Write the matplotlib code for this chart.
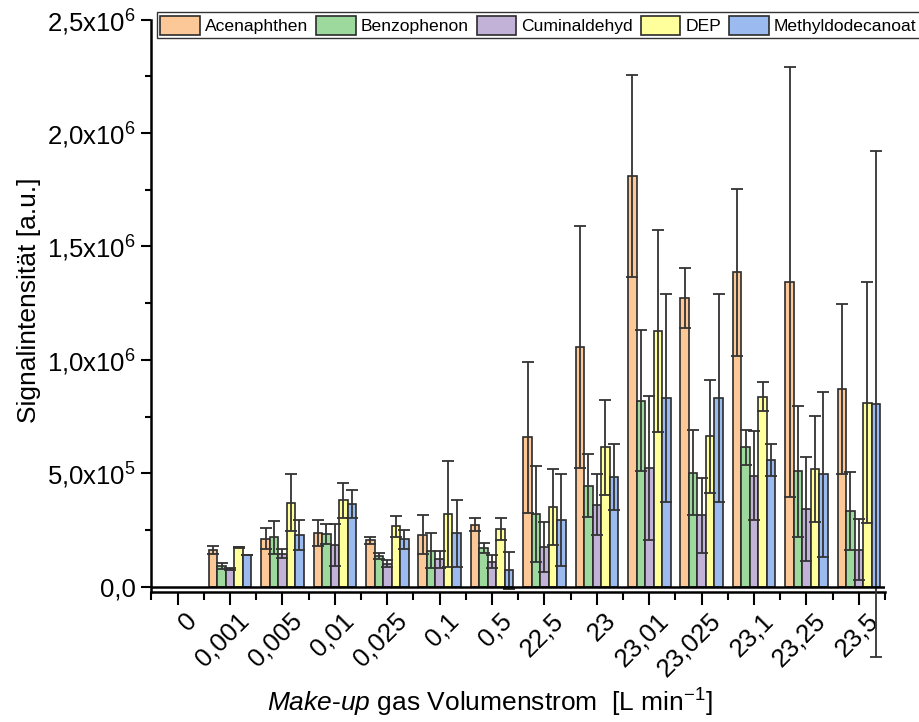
import numpy as np
import matplotlib
matplotlib.use('Agg')
import matplotlib.pyplot as plt
import matplotlib.transforms as mtransforms
from matplotlib import font_manager
from matplotlib.ticker import FixedLocator, MultipleLocator

plt.rcParams['font.family'] = ['Liberation Sans', 'DejaVu Sans']
plt.rcParams['mathtext.fontset'] = 'custom'
plt.rcParams['mathtext.rm'] = 'Liberation Sans'
plt.rcParams['mathtext.it'] = 'Liberation Sans:italic'
plt.rcParams['mathtext.bf'] = 'Liberation Sans:bold'

# ---------------- data ----------------
categories = ['0', '0,001', '0,005', '0,01', '0,025', '0,1', '0,5',
              '22,5', '23', '23,01', '23,025', '23,1', '23,25', '23,5']
series_names = ['Acenaphthen', 'Benzophenon', 'Cuminaldehyd', 'DEP', 'Methyldodecanoat']

acenaphthen = [np.nan, 161000, 212000, 237000, 205000, 230000, 273000,
               658000, 1055000, 1811000, 1274000, 1385000, 1342000, 872000]
acenaphthen_err = [np.nan, 19000, 48000, 58000, 15000, 86000, 29000,
                   332000, 534000, 445000, 132000, 369000, 948000, 375000]

benzophenon = [np.nan, 92000, 218000, 231000, 137000, 158000, 171000,
               319000, 446000, 820000, 503000, 614000, 509000, 332000]
benzophenon_err = [np.nan, 13000, 72000, 45000, 13000, 77000, 22000,
                   211000, 137000, 310000, 188000, 77000, 289000, 172000]

cuminaldehyd = [np.nan, 79000, 146000, 184000, 102000, 120000, 110000,
                175000, 361000, 523000, 315000, 489000, 342000, 163000]
cuminaldehyd_err = [np.nan, 4000, 19000, 92000, 15000, 38000, 29000,
                    110000, 134000, 318000, 165000, 197000, 228000, 135000]

dep = [np.nan, 173000, 371000, 380000, 266000, 320000, 254000,
       352000, 614000, 1128000, 662000, 838000, 518000, 811000]
dep_err = [np.nan, 3000, 124000, 77000, 47000, 235000, 48000,
           167000, 211000, 445000, 249000, 63000, 235000, 531000]

methyldodecanoat = [np.nan, 139000, 227000, 364000, 209000, 235000, 72000,
                    294000, 484000, 831000, 831000, 557000, 495000, 805000]
methyldodecanoat_err = [np.nan, 1000, 67000, 60000, 42000, 149000, 82000,
                        203000, 145000, 458000, 458000, 71000, 365000, 1117000]

ytick_values = [0, 500000, 1000000, 1500000, 2000000, 2500000]
ytick_labels = ['0,0', '5,0x10$^{5}$', '1,0x10$^{6}$', '1,5x10$^{6}$',
                '2,0x10$^{6}$', '2,5x10$^{6}$']

colors = ['#FDC897', '#9DD99D', '#C2B2D8', '#FFFF9B', '#9ABAF0']

values = [acenaphthen, benzophenon, cuminaldehyd, dep, methyldodecanoat]
errors = [acenaphthen_err, benzophenon_err, cuminaldehyd_err, dep_err, methyldodecanoat_err]

legend_prop = font_manager.FontProperties(family='Liberation Sans', size=12.6)

# ---------------- figure ----------------
fig = plt.figure(figsize=(9.2, 7.22), dpi=100)
ax = fig.add_axes([151.5 / 920, 130 / 722, 733.6 / 920, 572.5 / 722])

x = np.arange(len(categories))
w = 0.162
handles = []
for i, (name, vals, errs, col) in enumerate(zip(series_names, values, errors, colors)):
    pos = x + (i - 2) * w
    bc = ax.bar(pos, vals, w, color=col, edgecolor='#2b2b2b', linewidth=1.2,
                zorder=2, label=name)
    handles.append(bc)
    eb = ax.errorbar(pos, vals, yerr=errs, fmt='none', ecolor='#333333',
                     elinewidth=1.3, capsize=4, capthick=1.3, zorder=3)
    for art in list(eb.lines[1]) + list(eb.lines[2]):
        art.set_clip_on(False)

ax.axhline(0, color='black', lw=1.8, zorder=4)

ax.set_xlim(-0.5, 13.5)
ax.set_ylim(-23400, 2500000)

for s in ['top', 'right']:
    ax.spines[s].set_visible(False)
for s in ['left', 'bottom']:
    ax.spines[s].set_linewidth(1.8)

ax.set_yticks(ytick_values)
ax.set_yticklabels(ytick_labels)
ax.yaxis.set_minor_locator(MultipleLocator(250000))
ax.tick_params(axis='y', which='major', direction='out', length=7, width=1.5,
               labelsize=18.5, pad=4)
ax.tick_params(axis='y', which='minor', direction='out', length=4, width=1.5)

ax.set_xticks(x)
ax.set_xticklabels(categories, rotation=45, ha='right', va='top',
                   rotation_mode='anchor')
ax.xaxis.set_minor_locator(FixedLocator(np.arange(-0.5, 14.0, 1.0)))
ax.tick_params(axis='x', which='major', direction='out', length=9, width=1.5,
               labelsize=18.5, pad=3)
ax.tick_params(axis='x', which='minor', direction='out', length=6, width=1.5)
offset = mtransforms.ScaledTranslation(7 / 100, 0, fig.dpi_scale_trans)
for lbl in ax.get_xticklabels():
    lbl.set_transform(lbl.get_transform() + offset)

ax.set_ylabel('Signalintensität [a.u.]', fontsize=19)
ax.yaxis.set_label_coords(-0.151, 0.51)
ax.set_xlabel(r'$\mathit{Make}$-$\mathit{up}$ gas Volumenstrom  [L min$^{-1}$]',
              fontsize=19)
ax.xaxis.set_label_coords(0.4614, -0.166)

leg = fig.legend(handles, series_names, loc='upper left',
                 bbox_to_anchor=(157 / 920, 1 - 12 / 722),
                 bbox_transform=fig.transFigure, ncol=5, frameon=True,
                 fancybox=False, edgecolor='black', prop=legend_prop,
                 handlelength=2.25, handleheight=1.3, handletextpad=0.3,
                 columnspacing=0.45, borderpad=0.2, borderaxespad=0)
leg.get_frame().set_linewidth(1.0)

fig.savefig('out.png', dpi=100)
